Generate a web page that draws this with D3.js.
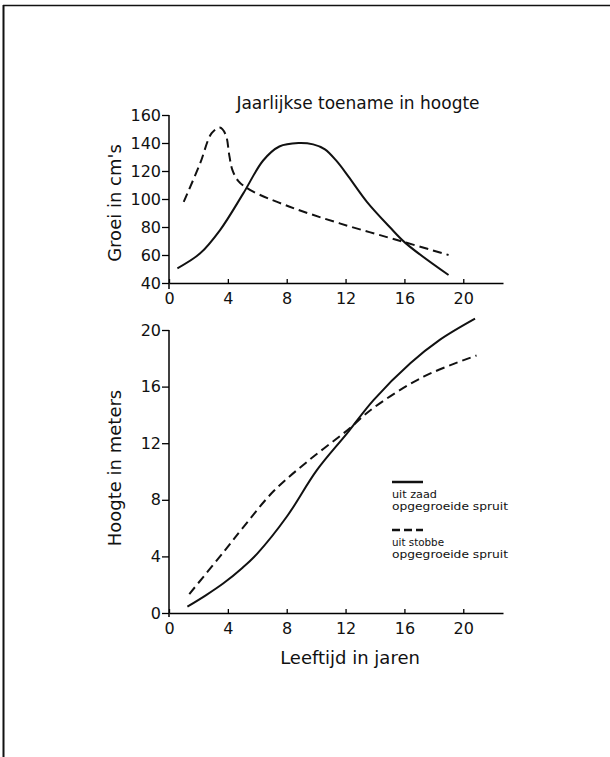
<!DOCTYPE html>
<html lang="nl">
  <head>
    <meta charset="UTF-8" />
    <title>Groei en hoogte</title>
    <style>
      body {
        margin: 0;
        background: #fff;
      }
      svg {
        display: block;
      }
      text {
        font-family: "DejaVu Sans", sans-serif;
        fill: #111;
      }
    </style>
  </head>
  <body>
    <svg id="svg" width="610" height="757"></svg>
    <script src="https://cdn.jsdelivr.net/npm/d3@7"></script>
    <script>
      // CONSTANTS
      const WIDTH = 610;
      const HEIGHT = 757;

      // data: [leeftijd (jaren), waarde]
      const xTicks = [0, 4, 8, 12, 16, 20];
      const growthTicks = [40, 60, 80, 100, 120, 140, 160];
      const heightTicks = [0, 4, 8, 12, 16, 20];

      // jaarlijkse groei in cm
      const growthSeed = [
        [0.57, 50.5], [2.1, 61], [3.47, 77.8], [5.05, 104], [6.4, 127.5],
        [7.5, 137.5], [8.8, 140], [9.8, 139], [10.6, 135.5], [11.4, 127],
        [12.2, 116], [13.45, 98], [15.0, 80], [16.1, 68.3], [19.0, 45.7],
      ];
      const growthStump = [
        [1.0, 98], [2.1, 125], [2.9, 147], [3.45, 151], [3.85, 146],
        [4.1, 131], [4.3, 121], [4.7, 113], [5.5, 106.5], [8.2, 94.5],
        [11.6, 82.6], [15.9, 69.5], [19.0, 60],
      ];

      // hoogte in meters
      const heightSeed = [
        [1.25, 0.45], [2.5, 1.25], [3.7, 2.1], [5.0, 3.2], [6.0, 4.2],
        [8.0, 6.8], [10.05, 10.1], [12.1, 12.7], [13.9, 15.05],
        [16.4, 17.65], [18.4, 19.3], [20.8, 20.8],
      ];
      const heightStump = [
        [1.38, 1.34], [3.7, 4.3], [5.0, 6.0], [7.1, 8.6], [9.4, 10.7],
        [12.1, 12.9], [13.9, 14.5], [17.3, 16.7], [20.9, 18.2],
      ];

      const svg = d3.select("#svg");

      // page border (top and left edge of the scan)
      svg.append("line")
        .attr("x1", 3).attr("y1", 5.5).attr("x2", WIDTH).attr("y2", 5.5)
        .attr("stroke", "#111").attr("stroke-width", 1.5);
      svg.append("line")
        .attr("x1", 3.5).attr("y1", 5).attr("x2", 3.5).attr("y2", HEIGHT)
        .attr("stroke", "#111").attr("stroke-width", 2);

      // scales
      const x = d3.scaleLinear().domain([0, 22.7]).range([169, 503]);
      const yTop = d3.scaleLinear().domain([40, 160]).range([283, 115]);
      const yBot = d3.scaleLinear().domain([0, 20]).range([613, 330]);

      function drawAxes(yScale, yTickVals, extra) {
        const g = svg.append("g");
        // x axis, ticks pointing up
        const xAxis = g.append("g")
          .attr("transform", `translate(0, ${yScale.range()[0]})`)
          .call(d3.axisBottom(x).tickValues(xTicks).tickSizeInner(-4).tickSizeOuter(0).tickPadding(7));
        xAxis.select(".domain").attr("stroke-width", 1.5);
        // y axis
        const yAxis = g.append("g")
          .attr("transform", `translate(${x(0)}, 0)`)
          .call(d3.axisLeft(yScale).tickValues(yTickVals).tickSizeInner(7).tickSizeOuter(0).tickPadding(1));
        yAxis.select(".domain")
          .attr("d", `M0,${yScale.range()[1]}V${yScale.range()[0] + extra}`)
          .attr("stroke-width", 1.5);
        g.selectAll(".tick line").attr("stroke-width", 1.3);
        g.selectAll("text").attr("font-size", 16).style("font-family", "DejaVu Sans");
        xAxis.selectAll("text").attr("dy", "0.9em");
      }

      drawAxes(yTop, growthTicks, 6);
      drawAxes(yBot, heightTicks, 4);

      const smooth = d3.curveCatmullRom.alpha(0.5);
      const lineTop = d3.line().x((d) => x(d[0])).y((d) => yTop(d[1])).curve(smooth);
      const lineBot = d3.line().x((d) => x(d[0])).y((d) => yBot(d[1])).curve(smooth);

      function curve(gen, data, dashed) {
        svg.append("path")
          .attr("d", gen(data))
          .attr("fill", "none")
          .attr("stroke", "#111")
          .attr("stroke-width", 2)
          .attr("stroke-dasharray", dashed ? "9,5" : null);
      }

      curve(lineTop, growthSeed, false);
      curve(lineTop, growthStump, true);
      curve(lineBot, heightSeed, false);
      curve(lineBot, heightStump, true);

      // titles and axis labels
      svg.append("text")
        .text("Jaarlijkse toename in hoogte")
        .attr("x", 358).attr("y", 109)
        .attr("text-anchor", "middle")
        .attr("font-size", 17);

      svg.append("text")
        .text("Groei in cm's")
        .attr("transform", "translate(121, 203) rotate(-90)")
        .attr("text-anchor", "middle")
        .attr("font-size", 18);

      svg.append("text")
        .text("Hoogte in meters")
        .attr("transform", "translate(121, 468) rotate(-90)")
        .attr("text-anchor", "middle")
        .attr("font-size", 18);

      svg.append("text")
        .text("Leeftijd in jaren")
        .attr("x", 350).attr("y", 664)
        .attr("text-anchor", "middle")
        .attr("font-size", 18);

      // legend
      const legend = svg.append("g").attr("transform", "translate(392, 0)");
      const legendItems = [
        { y: 482, dashed: false, lines: ["uit zaad", "opgegroeide spruit"], widths: [45, 116] },
        { y: 530, dashed: true, lines: ["uit stobbe", "opgegroeide spruit"], widths: [52, 116] },
      ];
      legendItems.forEach((item) => {
        legend.append("line")
          .attr("x1", 0).attr("x2", 31)
          .attr("y1", item.y).attr("y2", item.y)
          .attr("stroke", "#111")
          .attr("stroke-width", 2.5)
          .attr("stroke-dasharray", item.dashed ? "8,4" : null);
        item.lines.forEach((t, i) => {
          legend.append("text")
            .text(t)
            .attr("x", 0)
            .attr("y", item.y + 16 + i * 11.5)
            .attr("font-size", 10)
            .attr("textLength", item.widths[i])
            .attr("lengthAdjust", "spacingAndGlyphs");
        });
      });
    </script>
  </body>
</html>
